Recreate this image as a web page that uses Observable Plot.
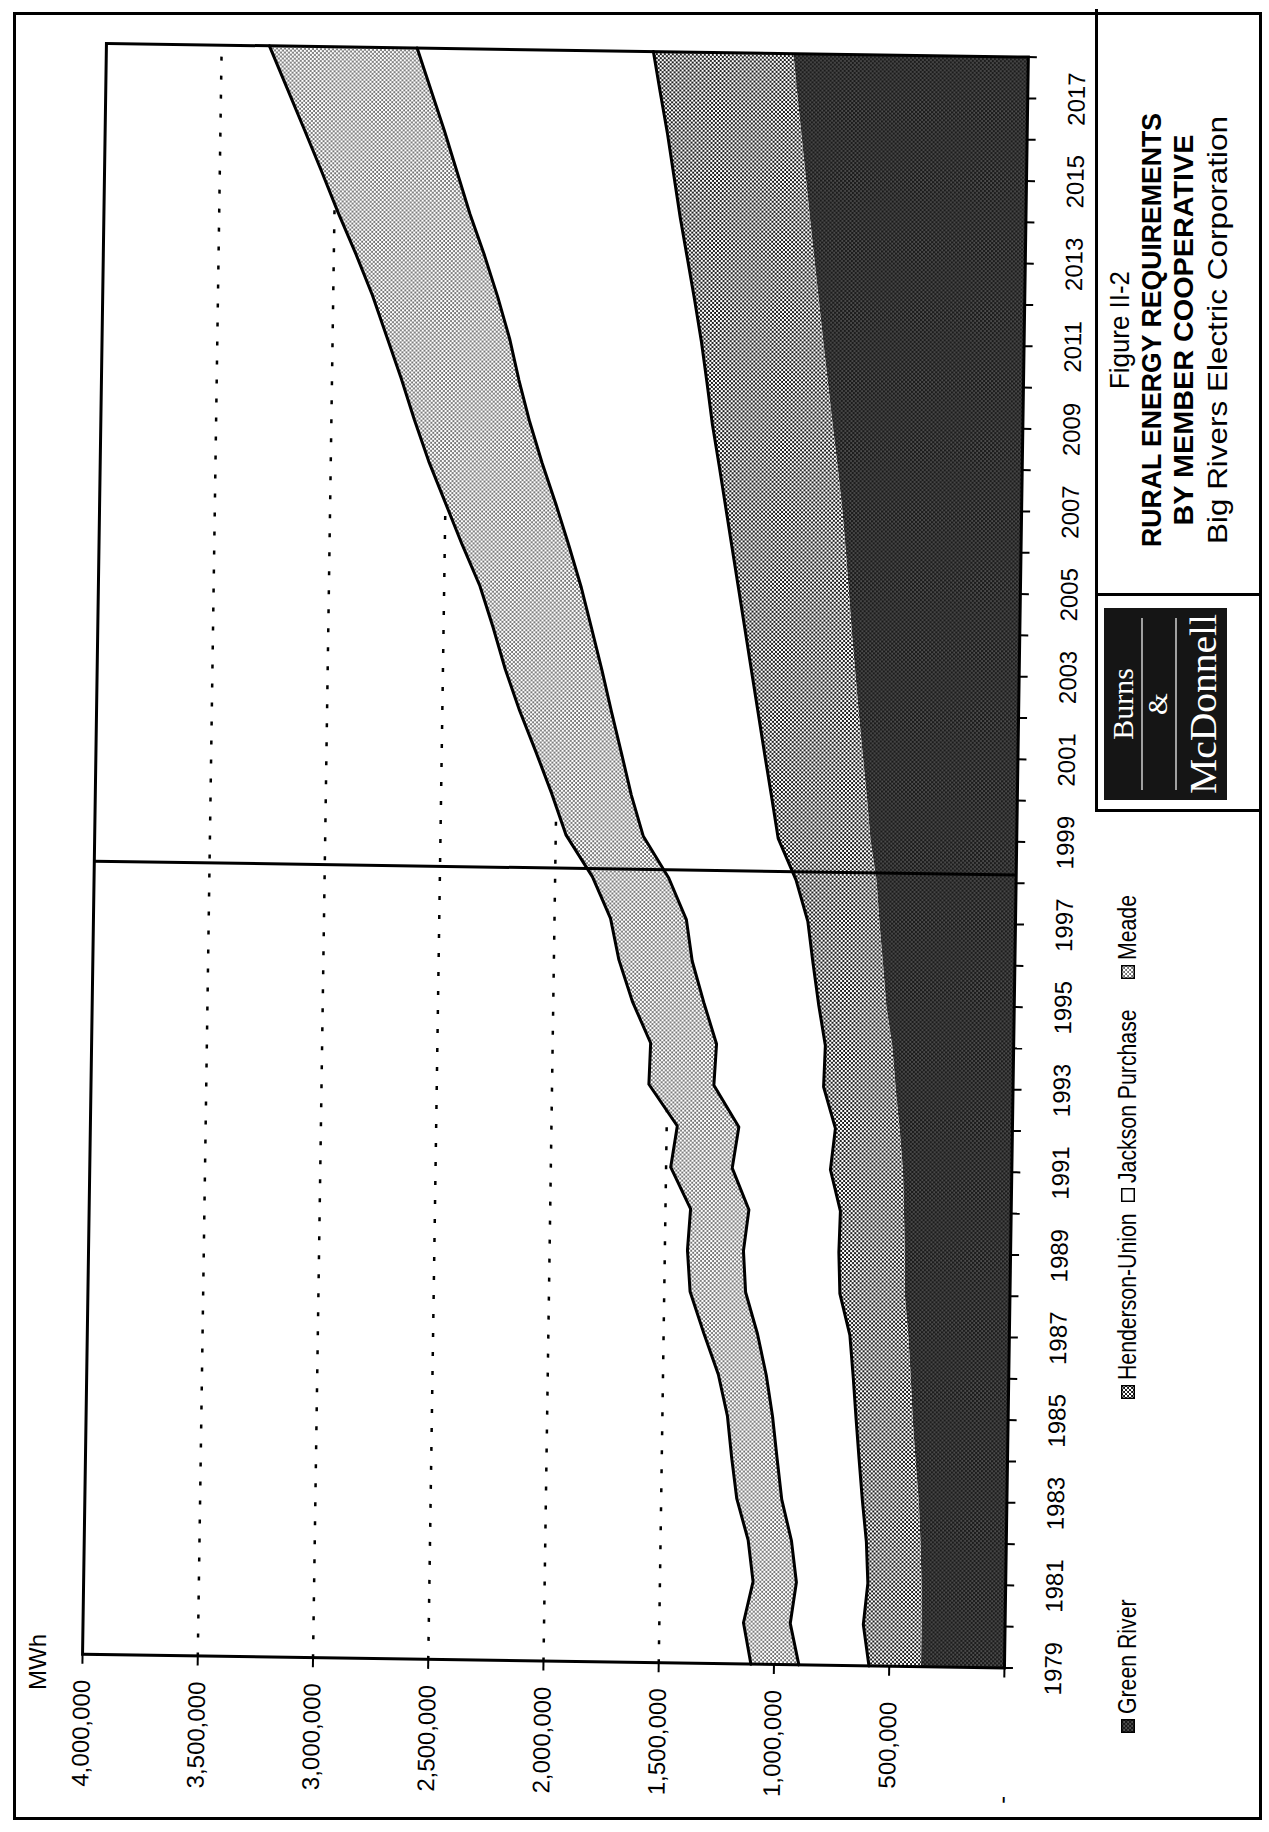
<!DOCTYPE html>
<html>
<head>
<meta charset="utf-8">
<script src="https://cdn.jsdelivr.net/npm/d3@7"></script>
<script src="https://cdn.jsdelivr.net/npm/@observablehq/plot@0.6"></script>
<style>
  html, body { margin: 0; padding: 0; background: #fff; overflow: hidden; }
  #page { position: relative; width: 1269px; height: 1832px; overflow: hidden; background: #fff; }
  #land { position: absolute; left: 0; top: 0; width: 1832px; height: 1269px;
          transform-origin: 0 0; transform: translate(0px, 1832px) rotate(-90deg);
          font-family: "Liberation Sans", Arial, Helvetica, sans-serif; color: #000; }
  #chart { position: absolute; left: 0; top: 0; transform-origin: 172px 437px; transform: rotate(0.85deg); }
  .abs { position: absolute; }
  .legitem { position: absolute; top: 1113px; display: flex; align-items: center; font-size: 25px; white-space: nowrap; }
  .legitem svg { margin-right: 5px; flex: none; }
  .legitem span { display: inline-block; transform: scaleX(0.85); transform-origin: 0 50%; }
</style>
</head>
<body>
<svg width="0" height="0" style="position:absolute">
  <defs>
    <pattern id="patGR" width="4" height="4" patternUnits="userSpaceOnUse">
      <rect width="4" height="4" fill="#1c1c1c"/>
      <circle cx="1" cy="1" r="0.5" fill="#fff"/>
      <circle cx="3" cy="3" r="0.5" fill="#fff"/>
    </pattern>
    <pattern id="patHU" width="4" height="4" patternUnits="userSpaceOnUse">
      <rect width="4" height="4" fill="#fff"/>
      <circle cx="1" cy="1" r="1.05" fill="#000"/>
      <circle cx="3" cy="3" r="1.05" fill="#000"/>
    </pattern>
    <pattern id="patME" width="4" height="4" patternUnits="userSpaceOnUse">
      <rect width="4" height="4" fill="#fff"/>
      <circle cx="1" cy="1" r="0.85" fill="#000"/>
      <circle cx="3" cy="3" r="0.85" fill="#000"/>
    </pattern>
  </defs>
</svg>
<div id="page">
  <div id="land">
    <div class="abs" style="left:12px;top:13px;width:1802px;height:1243px;border:3px solid #000;"></div>
    <div id="chart"></div>
    <div class="abs" id="mwh" style="left:142px;top:24px;font-size:24px;">MWh</div>
    <div id="legend"></div>
    <!-- title / logo box -->
    <div class="abs" style="left:1020px;top:1095px;width:800px;height:164px;border-left:3px solid #000;border-top:3px solid #000;"></div>
    <div class="abs" style="left:1236px;top:1095px;width:3px;height:164px;background:#000;"></div>
    <svg class="abs" style="left:1032px;top:1104px" width="192" height="123">
      <rect x="0" y="0" width="192" height="123" fill="#151515"/>
      <text x="96" y="29" text-anchor="middle" fill="#fff" font-family="'Liberation Serif', 'Times New Roman', serif" font-size="30">Burns</text>
      <line x1="10" x2="182" y1="38" y2="38" stroke="#fff" stroke-width="1.2"/>
      <text x="96" y="63" text-anchor="middle" fill="#fff" font-family="'Liberation Serif', 'Times New Roman', serif" font-size="28">&amp;</text>
      <line x1="10" x2="182" y1="72" y2="72" stroke="#fff" stroke-width="1.2"/>
      <text x="96" y="112" text-anchor="middle" fill="#fff" font-family="'Liberation Serif', 'Times New Roman', serif" font-size="38" textLength="180" lengthAdjust="spacingAndGlyphs">McDonnell</text>
    </svg>
    <svg class="abs" style="left:1236px;top:1095px" width="584" height="164" font-family="'Liberation Sans', Arial, Helvetica, sans-serif">
      <text x="266" y="34" text-anchor="middle" font-size="28" textLength="118" lengthAdjust="spacingAndGlyphs">Figure II-2</text>
      <text x="266" y="66" text-anchor="middle" font-size="28" font-weight="bold" textLength="434" lengthAdjust="spacingAndGlyphs">RURAL ENERGY REQUIREMENTS</text>
      <text x="266" y="98" text-anchor="middle" font-size="28" font-weight="bold" textLength="391" lengthAdjust="spacingAndGlyphs">BY MEMBER COOPERATIVE</text>
      <text x="266" y="132" text-anchor="middle" font-size="28" textLength="428" lengthAdjust="spacingAndGlyphs">Big Rivers Electric Corporation</text>
    </svg>
  </div>
</div>
<script>
// ---------- data (MWh) ----------
const years = [1979,1980,1981,1982,1983,1984,1985,1986,1987,1988,1989,1990,1991,1992,1993,1994,1995,1996,1997,1998,
               1999,2000,2001,2002,2003,2004,2005,2006,2007,2008,2009,2010,2011,2012,2013,2014,2015,2016,2017,2018];
const greenRiver = [360000,360000,363000,370000,380000,397000,412000,423000,436000,454000,457000,463000,470000,487000,507000,524000,553000,570000,588000,603000,
                    632000,650000,670000,690000,708000,726000,742000,758000,776000,798000,822000,845000,868000,890000,912000,934000,955000,976000,997000,1017000];
const hendersonUnion = [228000,255000,235000,237000,247000,247000,248000,252000,256000,284000,288000,278000,317000,281000,315000,293000,296000,306000,313000,352000,
                        403000,416000,428000,439000,452000,465000,480000,495000,508000,517000,525000,528000,532000,542000,554000,566000,575000,584000,597000,610000];
const jacksonPurchase = [304000,317000,310000,325000,350000,356000,362000,377000,401000,409000,414000,397000,426000,419000,476000,472000,498000,524000,527000,552000,
                         585000,609000,622000,637000,650000,666000,683000,708000,736000,768000,793000,816000,832000,854000,880000,912000,940000,968000,996000,1025000];
const meade = [208000,203000,188000,188000,195000,197000,196000,208000,233000,241000,243000,253000,267000,267000,282000,286000,310000,318000,329000,331000,
               335000,345000,371000,399000,420000,428000,440000,464000,480000,492000,500000,511000,533000,544000,559000,573000,590000,609000,625000,641000];
const seriesNames = ["Green River", "Henderson-Union", "Jackson Purchase", "Meade"];
const valueTicks = [0,500000,1000000,1500000,2000000,2500000,3000000,3500000,4000000];
const gridValues = [500000,1000000,1500000,2000000,2500000,3000000,3500000];
const yearLabels = [1979,1981,1983,1985,1987,1989,1991,1993,1995,1997,1999,2001,2003,2005,2007,2009,2011,2013,2015,2017];
const forecastDivider = 1998.2;

// ---------- table built from the arrays (cumulative stack) ----------
const rows = years.map((year, i) => {
  const c1 = greenRiver[i];
  const c2 = c1 + hendersonUnion[i];
  const c3 = c2 + jacksonPurchase[i];
  const c4 = c3 + meade[i];
  return {year, c1, c2, c3, c4};
});

const FONT = "'Liberation Sans', Arial, Helvetica, sans-serif";
const fmt = d3.format(",");

const chart = Plot.plot({
  width: 1832,
  height: 1269,
  marginLeft: 172,
  marginRight: 49,
  marginTop: 82,
  marginBottom: 265,
  style: {background: "transparent", fontFamily: FONT, fontSize: "24px", color: "#000", overflow: "visible"},
  x: {type: "linear", domain: [1979, 2018], label: null},
  y: {type: "linear", domain: [0, 4000000], label: null},
  marks: [
    Plot.ruleY(gridValues, {y: d => d, stroke: "#000", strokeWidth: 2.5, strokeDasharray: "4 15"}),
    Plot.areaY(rows, {x: "year", y1: 0, y2: "c1", fill: "url(#patGR)"}),
    Plot.areaY(rows, {x: "year", y1: "c1", y2: "c2", fill: "url(#patHU)"}),
    Plot.areaY(rows, {x: "year", y1: "c2", y2: "c3", fill: "#fff"}),
    Plot.areaY(rows, {x: "year", y1: "c3", y2: "c4", fill: "url(#patME)"}),
    Plot.lineY(rows, {x: "year", y: "c2", stroke: "#000", strokeWidth: 3}),
    Plot.lineY(rows, {x: "year", y: "c3", stroke: "#000", strokeWidth: 3}),
    Plot.lineY(rows, {x: "year", y: "c4", stroke: "#000", strokeWidth: 3}),
    Plot.ruleX([forecastDivider], {x: d => d, stroke: "#000", strokeWidth: 3}),
    Plot.frame({stroke: "#000", strokeWidth: 3}),
    Plot.axisX({ticks: years, tickSize: 9, tickFormat: () => "", strokeWidth: 2, label: null}),
    Plot.axisX({ticks: yearLabels, tickSize: 0, tickPadding: 40, tickFormat: d => String(d), label: null, fontSize: 24}),
    Plot.axisY({ticks: valueTicks, tickSize: 9, tickFormat: () => "", strokeWidth: 2, label: null}),
    Plot.text(valueTicks.filter(v => v > 0), {y: d => d, frameAnchor: "left", dx: -79, text: d => fmt(d), textAnchor: "middle", fontSize: 24}),
    Plot.text(valueTicks.filter(v => v === 0), {y: d => d, frameAnchor: "left", dx: -132, text: () => "-", textAnchor: "middle", fontSize: 24})
  ]
});
document.getElementById("chart").appendChild(chart);

// ---------- legend ----------
const legendFills = ["url(#patGR)", "url(#patHU)", "#fff", "url(#patME)"];
const legendLeft = [99, 433, 630, 853];
const legend = document.getElementById("legend");
seriesNames.forEach((name, i) => {
  const item = document.createElement("div");
  item.className = "legitem";
  item.style.left = legendLeft[i] + "px";
  item.innerHTML = `<svg width="14" height="14"><rect x="0.75" y="0.75" width="12.5" height="12.5" fill="${legendFills[i]}" stroke="#000" stroke-width="1.5"/></svg><span>${name}</span>`;
  legend.appendChild(item);
});
</script>
</body>
</html>
